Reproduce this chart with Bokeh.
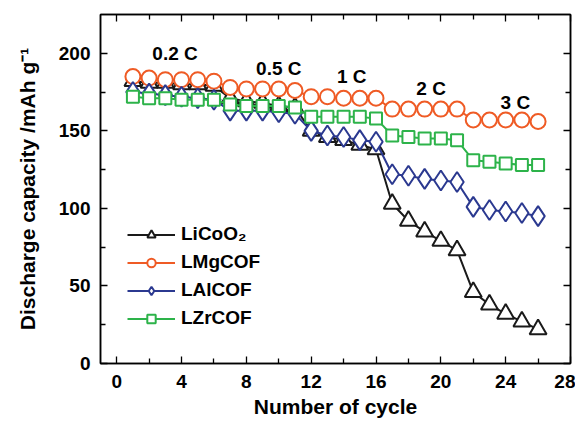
from bokeh.plotting import figure
from bokeh.models import LinearAxis, Range1d, FixedTicker, Legend, LegendItem
from bokeh.core.properties import value
from bokeh.embed import file_html
from bokeh.resources import INLINE

cycles = list(range(1, 27))
licoo2 = [182, 181, 181, 180, 180, 179, 171, 169, 168, 166, 165, 150, 146, 144, 141, 138,
          103, 92, 85, 79, 73, 46, 38, 32, 27, 22]
lmgcof = [185, 184, 183, 183, 183, 182, 178, 177, 177, 177, 176, 172, 172, 171, 171, 171,
          164, 164, 164, 164, 164, 157, 157, 157, 157, 156]
lalcof = [175, 174, 173, 172, 171, 170, 163, 163, 163, 162, 161, 150, 147, 146, 144, 143,
          122, 121, 119, 118, 117, 101, 99, 98, 97, 95]
lzrcof = [172, 171, 171, 170, 170, 170, 167, 166, 166, 166, 165, 159, 159, 159, 159, 158,
          147, 146, 145, 145, 144, 131, 130, 129, 128, 128]
rate_labels = ["0.2 C", "0.5 C", "1 C", "2 C", "3 C"]
rate_x = [3.6, 10.0, 14.5, 19.4, 24.6]
rate_y = [200, 190, 185, 177, 168]
x_ticks = [0, 4, 8, 12, 16, 20, 24, 28]
y_ticks = [0, 50, 100, 150, 200]

FONT = "Liberation Sans"

p = figure(frame_width=470, frame_height=349, output_backend="svg", toolbar_location=None,
           x_range=Range1d(-1, 28), y_range=Range1d(0, 225),
           min_border_left=100, min_border_top=14, min_border_right=5, min_border_bottom=57,
           background_fill_color="white", border_fill_color="white")
p.outline_line_color = "black"
p.outline_line_width = 1.5
p.grid.visible = False

def style_axis(ax, show_labels=True):
    ax.axis_line_width = 1.5
    ax.major_tick_in = 7
    ax.major_tick_out = 0
    ax.minor_tick_in = 5
    ax.minor_tick_out = 0
    ax.major_tick_line_width = 1.3
    ax.minor_tick_line_width = 1.3
    ax.major_label_text_font = FONT
    ax.major_label_text_font_style = "bold"
    ax.major_label_text_font_size = "19px"
    ax.major_label_text_color = "black"
    ax.axis_label_text_font = FONT
    ax.axis_label_text_font_style = "bold"
    ax.axis_label_text_font_size = "21px"
    ax.axis_label_text_color = "black"
    if not show_labels:
        ax.major_label_text_font_size = "0px"
        ax.major_label_text_alpha = 0

xt = FixedTicker(ticks=x_ticks, minor_ticks=[2, 6, 10, 14, 18, 22, 26])
yt = FixedTicker(ticks=y_ticks, minor_ticks=[25, 75, 125, 175])

p.xaxis.ticker = xt
p.yaxis.ticker = yt
style_axis(p.xaxis[0])
style_axis(p.yaxis[0])
p.xaxis.axis_label = "Number of cycle"
p.yaxis.axis_label = "Discharge capacity /mAh g\u207b\u00b9"
p.xaxis.major_label_standoff = 11
p.yaxis.major_label_standoff = 10
p.xaxis.axis_label_standoff = 4
p.yaxis.axis_label_standoff = 17

top = LinearAxis(ticker=xt)
style_axis(top, False)
top.major_label_standoff = 0
p.add_layout(top, "above")
right = LinearAxis(ticker=yt)
style_axis(right, False)
right.major_label_standoff = 0
p.add_layout(right, "right")

black = "#1a1a1a"
orange = "#EF5B25"
blue = "#2B3990"
green = "#2DB34A"

series = [
    ("LiCoO\u2082", licoo2, black, "triangle", 17),
    ("LMgCOF", lmgcof, orange, "circle", 15),
    ("LAlCOF", lalcof, blue, "diamond", 20),
    ("LZrCOF", lzrcof, green, "square", 12),
]
items = []
for name, ys, col, marker, size in series:
    ln = p.line(cycles, ys, line_color=col, line_width=2)
    sc = p.scatter(cycles, ys, marker=marker, size=size, line_color=col, line_width=2,
                   fill_color="white")
    items.append(LegendItem(label=name, renderers=[ln, sc]))

p.text(x=rate_x, y=rate_y, text=rate_labels, text_font=value(FONT),
       text_font_style="bold", text_font_size="19px", text_color="black",
       text_align="center", text_baseline="middle")

legend = Legend(items=items, location=(27, 34), background_fill_alpha=0,
                border_line_alpha=0, padding=0, margin=0, spacing=6,
                glyph_width=48, glyph_height=21, label_height=21, label_standoff=6,
                label_text_font=FONT, label_text_font_style="bold",
                label_text_font_size="19px", label_text_color="black")
p.add_layout(legend, "center")

open("out.html", "w").write(file_html(p, INLINE))
